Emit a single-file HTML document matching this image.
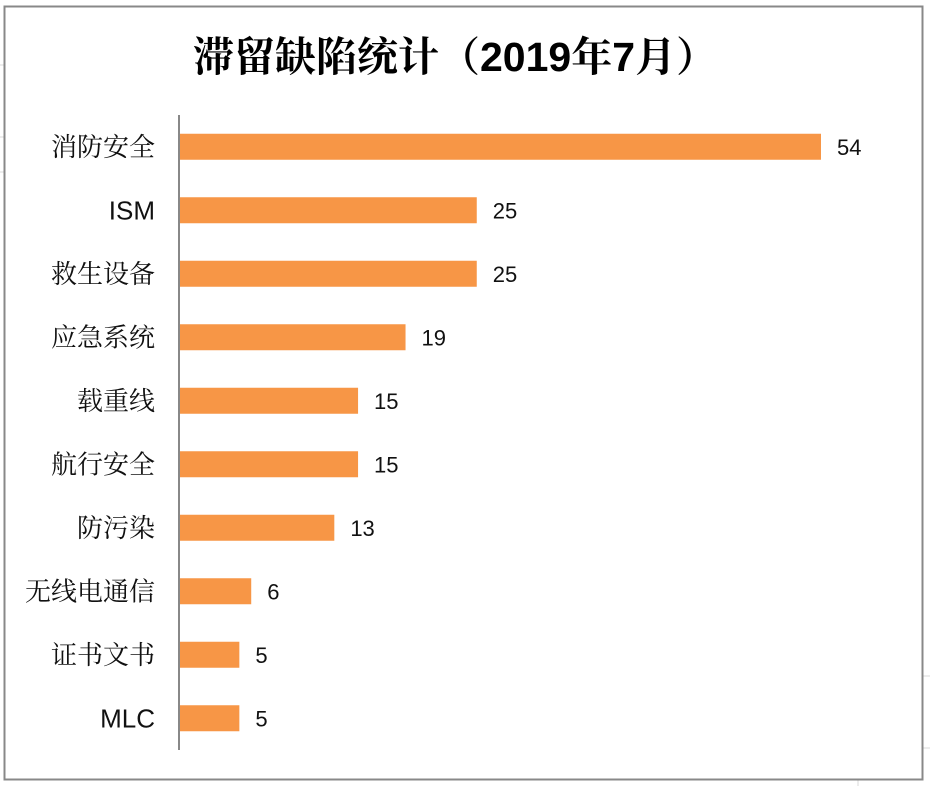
<!DOCTYPE html>
<html><head><meta charset="utf-8">
<style>
html,body{margin:0;padding:0;background:#fff;}
body{width:930px;height:786px;position:relative;overflow:hidden;}
</style></head>
<body>
<svg width="930" height="786" xmlns="http://www.w3.org/2000/svg">
  <g stroke="#d9d9d9" stroke-width="1">
    <line x1="0" y1="65" x2="4" y2="65"/><line x1="0" y1="137" x2="4" y2="137"/><line x1="0" y1="172" x2="4" y2="172"/>
    <line x1="922" y1="676" x2="930" y2="676"/><line x1="922" y1="748" x2="930" y2="748"/>
    <line x1="858" y1="780" x2="858" y2="786"/>
  </g>
  <rect x="4.5" y="6.5" width="918" height="773" fill="#fff" stroke="#888" stroke-width="2"/>
  <text x="455" y="71" text-anchor="middle" font-size="41" font-weight="bold" font-family="'Liberation Sans','Noto Serif CJK SC','Noto Sans CJK SC',sans-serif" fill="#000">滞留缺陷统计（2019年7月）</text>
  <g id="bars"></g>
  <line x1="179" y1="115" x2="179" y2="750" stroke="#888" stroke-width="2"/>
</svg>
<script>
const categories = ["消防安全","ISM","救生设备","应急系统","载重线","航行安全","防污染","无线电通信","证书文书","MLC"];
const values = [54,25,25,19,15,15,13,6,5,5];
const valueLabels = ["54","25","25","19","15","15","13","6","5","5"];

const NS = "http://www.w3.org/2000/svg";
const x0 = 180, pxPerUnit = 641/54;
const yTop = 115, band = 63.5, barH = 26;
function xScale(v){ return x0 + v*pxPerUnit; }
function yCenter(i){ return yTop + band*(i+0.5); }
const g = document.getElementById('bars');
categories.forEach((c,i)=>{
  const yc = yCenter(i);
  const r = document.createElementNS(NS,'rect');
  
  
  r.setAttribute('x', x0);
  r.setAttribute('y', yc - barH/2);
  r.setAttribute('width', xScale(values[i]) - x0);
  r.setAttribute('height', barH);
  r.setAttribute('fill', '#f79646');
  g.appendChild(r);
  const t = document.createElementNS(NS,'text');
  
  
  t.setAttribute('x', 155);
  t.setAttribute('y', yc + 9);
  t.setAttribute('text-anchor', 'end');
  t.setAttribute('font-size', '26');
  t.setAttribute('font-family', "'Liberation Sans','Noto Serif CJK SC','Noto Sans CJK SC',sans-serif");
  t.setAttribute('fill', '#111');
  t.textContent = c;
  g.appendChild(t);
  const v = document.createElementNS(NS,'text');
  
  
  v.setAttribute('x', xScale(values[i]) + 16);
  v.setAttribute('y', yc + 8);
  v.setAttribute('font-size', '22');
  v.setAttribute('font-family', "'Liberation Sans',sans-serif");
  v.setAttribute('fill', '#111');
  v.textContent = valueLabels[i];
  g.appendChild(v);
});
</script>
</body></html>
